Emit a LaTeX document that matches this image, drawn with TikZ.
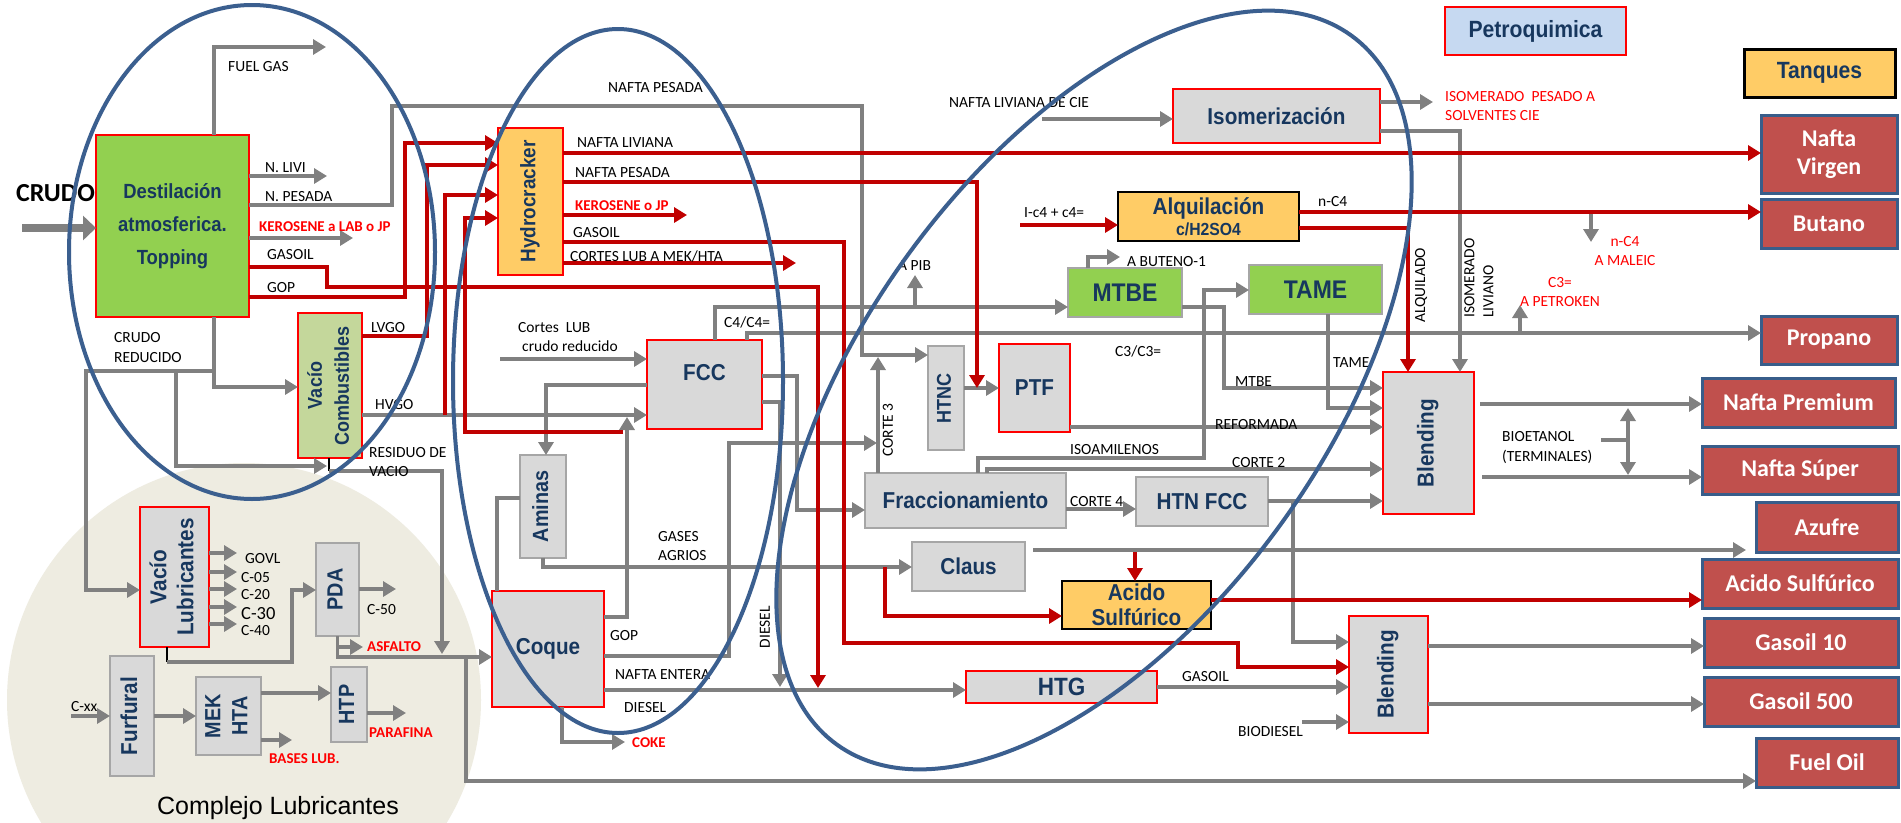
\documentclass[tikz,border=0pt]{standalone}
\usepackage{fontspec}
\usepackage{graphicx}
\usetikzlibrary{arrows.meta}
\setmainfont{Carlito}
\newfontfamily\boxfnt{Liberation Sans}[FakeStretch=0.9]
\newfontfamily\labfnt{Carlito}
\newfontfamily\arifnt{Liberation Sans}
\newcommand\setfs[2]{\fontsize{#1}{#2}\selectfont}
\newcommand\vtext[1]{\rotatebox{90}{\begin{tabular}{@{}c@{}}#1\end{tabular}}}
\definecolor{navy}{RGB}{23,55,94}
\definecolor{bred}{RGB}{255,0,0}
\definecolor{bgrey}{RGB}{166,166,166}
\definecolor{fgrey}{RGB}{217,217,217}
\definecolor{fgreen}{RGB}{146,208,80}
\definecolor{flgreen}{RGB}{196,215,155}
\definecolor{forange}{RGB}{255,204,102}
\definecolor{fblue}{RGB}{198,217,241}
\definecolor{tred}{RGB}{192,80,77}
\definecolor{tblue}{RGB}{56,93,138}
\definecolor{gline}{RGB}{128,128,128}
\definecolor{rline}{RGB}{192,0,0}
\definecolor{ellc}{RGB}{59,95,143}
\definecolor{beige}{RGB}{238,236,225}
\definecolor{lred}{RGB}{255,0,0}
\tikzset{
  bx/.style={line width=2.5pt, inner sep=0pt, outer sep=0pt, text=navy, align=center,
    font=\boxfnt\bfseries\setfs{23}{26}},
  rb/.style={bx, draw=bred},
  gb/.style={bx, draw=bgrey},
  kb/.style={bx, draw=black},
  wh/.style 2 args={minimum width=#1pt, minimum height=#2pt},
  tank/.style={draw=tblue, line width=3pt, fill=tred, inner sep=0pt, outer sep=0pt,
    text=white, align=center, font=\labfnt\bfseries\setfs{24}{28}},
  gl/.style={draw=gline, line width=3.5pt},
  ga/.style={gl, -{Triangle[length=13pt,width=15pt]}},
  rl/.style={draw=rline, line width=3.5pt},
  ra/.style={rl, -{Triangle[length=13pt,width=15pt]}},
  lb/.style={inner sep=0pt, anchor=west, align=left, font=\labfnt\setfs{15.5}{19}},
  lbr/.style={lb, text=lred},
  lbrb/.style={lb, text=lred, font=\labfnt\bfseries\setfs{15}{19}},
  ell/.style={draw=ellc, line width=4pt},
}
\begin{document}
\begin{tikzpicture}[x=1pt,y=-1pt]
\useasboundingbox (0,0) rectangle (1901,822);
\fill[white] (0,0) rectangle (1901,822);
% lubricants complex backdrop
\begin{scope}
  \clip (0,0) rectangle (1901,822);
  \fill[beige] (244,700) circle [radius=237pt];
\end{scope}

% ---------- process units ----------
\node[rb, fill=fgreen, wh={153}{182}, font=\boxfnt\bfseries\setfs{20.5}{33}] (dest) at (172.5,226) {Destilación\\atmosferica.\\Topping};
\node[rb, fill=forange, wh={65}{147}, font=\boxfnt\bfseries\setfs{21}{24}] (hc) at (530.5,201.5) {\vtext{Hydrocracker}};
\node[rb, fill=flgreen, wh={64}{145}, font=\boxfnt\bfseries\setfs{20}{27}] (vcomb) at (330,385.5) {\vtext{Vacío\\Combustibles}};
\node[rb, fill=fgrey, wh={115}{89}] (fcc) at (704.5,384.5) {};
\node[bx] (fcct) at (704.5,373) {FCC};
\node[gb, fill=fgrey, wh={46}{103}, font=\boxfnt\bfseries\setfs{22}{26}] (amin) at (543,506.5) {\vtext{Aminas}};
\node[rb, fill=fgrey, wh={112}{116}] (coque) at (548,649) {Coque};
\node[rb, fill=fgrey, wh={207}{54}] (iso) at (1276.5,116) {Isomerización};
\node[kb, fill=forange, wh={181}{49}] (alq) at (1208.5,216.5) {Alquilación\\[-5pt]{\setfs{17.5}{20}c/H2SO4}};
\node[gb, fill=fgreen, wh={114}{49}, font=\boxfnt\bfseries\setfs{25.5}{28}] (mtbe) at (1125,292.5) {MTBE};
\node[gb, fill=fgreen, wh={133}{49}, font=\boxfnt\bfseries\setfs{25.5}{28}] (tame) at (1315.5,289.5) {TAME};
\node[gb, fill=fgrey, wh={36}{104}, font=\boxfnt\bfseries\setfs{20}{24}] (htnc) at (946,398) {\vtext{HTNC}};
\node[rb, fill=fgrey, wh={71}{88}] (ptf) at (1034.5,388) {PTF};
\node[gb, fill=fgrey, wh={201}{55}] (frac) at (965.5,500.5) {Fraccionamiento};
\node[gb, fill=fgrey, wh={132}{49}] (htnfcc) at (1202,501.5) {HTN FCC};
\node[gb, fill=fgrey, wh={113}{49}] (claus) at (968.5,566.5) {Claus};
\node[kb, fill=forange, wh={149}{48}, font=\boxfnt\bfseries\setfs{23}{25.5}] (acid) at (1136.5,605) {Acido\\Sulfúrico};
\node[rb, fill=fgrey, wh={191}{32}, font=\boxfnt\bfseries\setfs{25}{26}] (htg) at (1061.5,687) {HTG};
\node[rb, fill=fgrey, wh={91}{142}] (bl1) at (1428.5,443) {\vtext{Blending}};
\node[rb, fill=fgrey, wh={79}{117}] (bl2) at (1388.5,674.5) {\vtext{Blending}};
\node[rb, fill=fblue, wh={181}{48}, font=\boxfnt\bfseries\setfs{23.5}{26}] (petro) at (1535.5,31) {Petroquimica};
\node[kb, fill=forange, wh={151}{48}, line width=3pt, font=\boxfnt\bfseries\setfs{23.5}{26}] (tanq) at (1819.5,73) {Tanques};

% lubricants complex
\node[rb, fill=fgrey, wh={69}{140}, font=\boxfnt\bfseries\setfs{23}{27}] (vlub) at (174.5,577) {\vtext{Vacío\\Lubricantes}};
\node[gb, fill=fgrey, wh={43}{93}, font=\boxfnt\bfseries\setfs{22}{26}] (pda) at (337.5,589.5) {\vtext{PDA}};
\node[gb, fill=fgrey, wh={44}{120}] (furf) at (132,716) {\vtext{Furfural}};
\node[gb, fill=fgrey, wh={65}{78}, font=\boxfnt\bfseries\setfs{22}{27}] (mek) at (228.5,716) {\vtext{MEK\\HTA}};
\node[gb, fill=fgrey, wh={36}{75}, font=\boxfnt\bfseries\setfs{22}{26}] (htp) at (349,704.5) {\vtext{HTP}};

% ---------- tanks ----------
\node[tank, wh={136}{78}] (tnv) at (1829,154) {Nafta\\Virgen};
\node[tank, wh={136}{49}] (tbut) at (1829,223.5) {Butano};
\node[tank, wh={136}{48}] (tprop) at (1829,340) {Propano};
\node[tank, wh={193}{49}] (tnprem) at (1798.5,402.5) {Nafta Premium};
\node[tank, wh={196}{48}] (tnsup) at (1800,470) {Nafta Súper};
\node[tank, wh={142}{50}] (tazu) at (1827,527) {Azufre};
\node[tank, wh={196}{49}] (tacid) at (1800,583.5) {Acido Sulfúrico};
\node[tank, wh={194}{49}] (tg10) at (1801,642.5) {Gasoil 10};
\node[tank, wh={194}{49}] (tg500) at (1801,701.5) {Gasoil 500};
\node[tank, wh={142}{49}] (tfo) at (1827,762.5) {Fuel Oil};

% ---------- free ends ----------
\coordinate (crudein) at (22,228);
\coordinate (fgend) at (326,47);
\coordinate (nliviend) at (327,176);
\coordinate (kerend) at (353,238);
\coordinate (apib) at (915,275);
\coordinate (petrok) at (1520,305);
\coordinate (maleic) at (1591,242);
\coordinate (buteno) at (1120,257);
\coordinate (isopes) at (1433,102);
\coordinate (ciein) at (1042,119);
\coordinate (ic4in) at (1020,225);
\coordinate (kerjp) at (687,215);
\coordinate (cortlub) at (796,263);
\coordinate (lubin) at (500,359);
\coordinate (cokeend) at (625,742);
\coordinate (bioin) at (1302,722);
\coordinate (cxxin) at (71,716);

% ---------- grey streams ----------
\draw[gl, line width=8pt, -{Triangle[length=13pt,width=24pt]}] (crudein) -- (crudein -| dest.west);
\draw[ga] (dest.north -| 214,0) |- (fgend);
\draw[ga] (nliviend -| dest.east) -- (nliviend);
\draw[ga] (dest.east |- 0,205) -- (392,205) -- (392,106) -- (862,106) -- (862,355) -- (htnc.west |- 0,355);
\draw[ga] (kerend -| dest.east) -- (kerend);
\draw[ga] (dest.south -| 214,0) |- (vcomb.west |- 0,387);
\draw[ga] (214,371) -| (86,590) -- (vlub.west |- 0,590);
\draw[ga] (176,371) |- (327,466);
\draw[draw=black, line width=2pt] (vcomb.south -| 329,0) -- (329,471);
\draw[ga] (329,471) -| (442,654);
\draw[ga] (pda.south) |- (coque.west |- 0,657);
\draw[ga] (466,657) |- (tfo.west |- 0,781);
\draw[ga] (vcomb.east |- 0,415) -- (fcc.west |- 0,415);
\foreach \yy in {553,572,589,607,624}{
  \draw[ga] (vlub.east |- 0,\yy) -- (237,\yy);
}
\draw[draw=black, line width=2pt] (vlub.south -| 167,0) -- (167,662);
\draw[ga] (167,662) -| (292,590) -- (pda.west |- 0,590);
\draw[ga] (pda.east |- 0,589) -- (396,589);
\draw[ga] (338,647) -- (363,647);
\draw[ga] (cxxin) -- (furf.west |- cxxin);
\draw[ga] (furf.east |- 0,716) -- (mek.west |- 0,716);
\draw[ga] (mek.east |- 0,693) -- (htp.west |- 0,693);
\draw[ga] (mek.east |- 0,740) -- (292,740);
\draw[ga] (htp.east |- 0,713) -- (406,713);
\draw[ga] (lubin) -- (fcc.west |- lubin);
\draw[ga] (fcc.west |- 0,385) -| (546,455);
\draw[gl] (amin.west |- 0,498) -| (coque.north -| 497,0);
\draw[ga] (amin.south) |- (claus.west |- 0,567);
\draw[ga] (coque.east |- 0,617) -| (627,417);
\draw[ga] (coque.east |- 0,656) -| (729,443) -- (877,443);
\draw[ga] (coque.east |- 0,690) -- (htg.west |- 0,690);
\draw[ga] (coque.south -| 562,0) |- (cokeend);
\draw[ga] (fcc.north -| 715,0) |- (mtbe.west |- 0,307);
\draw[ga] (apib |- 0,307) -- (apib);
\draw[ga] (fcc.north -| 747,0) |- (tprop.west |- 0,333);
\draw[ga] (petrok |- 0,333) -- (petrok);
\draw[ga] (fcc.east |- 0,376) -| (797,510) -- (frac.west |- 0,510);
\draw[ga] (fcc.east |- 0,402) -| (780,687);
\draw[ga] (frac.north -| 878,0) -- (878,357);
\draw[ga] (htnc.east |- 0,388) -- (ptf.west |- 0,388);
\draw[ga] (mtbe.north -| 1088,0) |- (buteno);
\draw[ga] (mtbe.east |- 0,307) -| (1224,388) -- (bl1.west |- 0,388);
\draw[ga] (frac.north -| 978,0) |- (1204,458) |- (tame.west |- 0,290);
\draw[ga] (tame.south -| 1328,0) |- (bl1.west |- 0,408);
\draw[ga] (ptf.east |- 0,427) -- (bl1.west |- 0,427);
\draw[ga] (frac.north -| 987,0) |- (bl1.west |- 0,469);
\draw[ga] (frac.east |- 0,509) -- (htnfcc.west |- 0,509);
\draw[ga] (htnfcc.east |- 0,501) -- (bl1.west |- 0,501);
\draw[ga] (1293,501) |- (bl2.west |- 0,642);
\draw[ga] ([xshift=8pt]claus.east |- 0,550) -- ([xshift=-10pt]tazu.west |- 0,550);
\draw[ga] (ciein) -- (iso.west |- ciein);
\draw[ga] (iso.east |- isopes) -- (isopes);
\draw[ga] (iso.east |- 0,131) -| (bl1.north -| 1460,0);
\draw[ga] (maleic |- 0,212) -- (maleic);
\draw[ga] (htg.east |- 0,687) -- (bl2.west |- 0,687);
\draw[ga] (bioin) -- (bl2.west |- bioin);
\draw[ga] (bl2.east |- 0,646) -- (tg10.west |- 0,646);
\draw[ga] (bl2.east |- 0,704) -- (tg500.west |- 0,704);
\draw[ga] ([xshift=6pt]bl1.east |- 0,404) -- (tnprem.west |- 0,404);
\draw[ga] ([xshift=8pt]bl1.east |- 0,477) -- (tnsup.west |- 0,477);
\draw[gl] (1601,440) -- (1628,440);
\draw[gl, {Triangle[length=13pt,width=15pt]}-{Triangle[length=13pt,width=15pt]}] (1628,408) -- (1628,475);

% ---------- red streams ----------
\draw[ra] (dest.east |- 0,267) -- (327,267) -- (327,287) -- (818,287) -- (818,688);
\draw[ra] (dest.east |- 0,297) -| (405,143) -- (hc.west |- 0,143);
\draw[ra] (vcomb.east |- 0,336) -| (427,165) -- (hc.west |- 0,165);
\draw[ra] (445,415) |- (hc.west |- 0,195);
\draw[ra] (623,432) -| (465,218) -- (hc.west |- 0,218);
\draw[ra] (hc.east |- 0,153) -- (tnv.west |- 0,153);
\draw[ra] (hc.east |- 0,182) -| (977,388);
\draw[ra] (hc.east |- kerjp) -- (kerjp);
\draw[ra] (hc.east |- 0,242) -| (844,643) -| (1238,667) -- (bl2.west |- 0,667);
\draw[ra] (hc.east |- cortlub) -- (cortlub);
\draw[ra] (ic4in) -- (alq.west |- ic4in);
\draw[ra] (alq.east |- 0,212) -- (tbut.west |- 0,212);
\draw[ra] (alq.east |- 0,228) -| (bl1.north -| 1408,0);
\draw[ra] (885,567) |- (acid.west |- 0,616);
\draw[ra] (1135,552) -- (acid.north -| 1135,0);
\draw[ra] (acid.east |- 0,600) -- (tacid.west |- 0,600);

% ---------- stream labels ----------
\node[lb, font=\labfnt\bfseries\setfs{26}{30}] (lcrudo) at (16,193) {CRUDO};
\node[lb] (lfg) at (228,67) {FUEL GAS};
\node[lb] (lnl) at (265,168) {N. LIVI};
\node[lb] (lnp) at (265,197) {N. PESADA};
\node[lbrb] (lker) at (259,227) {KEROSENE a LAB o JP};
\node[lb] (lgo) at (267,255) {GASOIL};
\node[lb] (lgop) at (267,288) {GOP};
\node[lb, font=\labfnt\setfs{15.5}{20}] (lcr) at (114,348) {CRUDO\\REDUCIDO};
\node[lb] (llvgo) at (371,328) {LVGO};
\node[lb] (lhvgo) at (375,405) {HVGO};
\node[lb] (lres) at (369,462) {RESIDUO DE\\VACIO};
\node[lb] (lnpes) at (608,88) {NAFTA PESADA};
\node[lb] (lhnl) at (577,143) {NAFTA LIVIANA};
\node[lb] (lhnp) at (575,173) {NAFTA PESADA};
\node[lbrb] (lhker) at (575,206) {KEROSENE o JP};
\node[lb] (lhgo) at (573,233) {GASOIL};
\node[lb] (lhcl) at (570,256) {CORTES LUB A MEK/HTA};
\node[lb] (lclub) at (518,337.5) {Cortes~~LUB\\\hspace*{4pt}crudo reducido};
\node[lb] (lc4) at (724,322) {C4/C4=};
\node[lb] (lc3) at (1115,351) {C3/C3=};
\node[lb] (lpib) at (898,266) {A PIB};
\node[lb, rotate=90, anchor=center] (lc3v) at (888,430) {CORTE 3};
\node[lb] (lga) at (658,546.5) {GASES\\AGRIOS};
\node[lb] (lcgop) at (610,636) {GOP};
\node[lb] (lnent) at (615,675) {NAFTA ENTERA};
\node[lb] (ldies) at (624,708) {DIESEL};
\node[lbrb] (lcoke) at (632,743) {COKE};
\node[lb, rotate=90, anchor=center] (ldiesv) at (765,627) {DIESEL};
\node[lb] (lcie) at (949,103) {NAFTA LIVIANA DE CIE};
\node[lbr] (lisop) at (1445,106.5) {ISOMERADO~~PESADO A\\SOLVENTES CIE};
\node[lb] (lic4) at (1024,213) {I-c4 + c4=};
\node[lb] (lnc4) at (1318,202) {n-C4};
\node[lbr, anchor=center, align=center] (lmal) at (1625,251.5) {n-C4\\A MALEIC};
\node[lbr, anchor=center, align=center] (lpetk) at (1560,292.5) {C3=\\A PETROKEN};
\node[lb] (lbut) at (1127,262) {A BUTENO-1};
\node[lb] (lmtbe) at (1235,382) {MTBE};
\node[lb] (ltame) at (1333,363) {TAME};
\node[lb] (lref) at (1215,425) {REFORMADA};
\node[lb] (liso) at (1070,450) {ISOAMILENOS};
\node[lb] (lc2) at (1232,463) {CORTE 2};
\node[lb] (lc4b) at (1070,502) {CORTE 4};
\node[lb, rotate=90] (lalq) at (1421,323) {ALQUILADO};
\node[lb, rotate=90] (lisol) at (1479,318) {ISOMERADO\\LIVIANO};
\node[lb, font=\labfnt\setfs{15.5}{20}] (lbio) at (1502,448) {BIOETANOL\\(TERMINALES)};
\node[lb] (lhgo2) at (1182,677) {GASOIL};
\node[lb] (lbiod) at (1238,732) {BIODIESEL};
\node[lb] (lgovl) at (245,559) {GOVL};
\node[lb] (lc05) at (241,578) {C-05};
\node[lb] (lc20) at (241,595) {C-20};
\node[lb, font=\labfnt\setfs{18.5}{22}] (lc30) at (241,614) {C-30};
\node[lb] (lc40) at (241,631) {C-40};
\node[lb] (lc50) at (367,610) {C-50};
\node[lbrb] (lasf) at (367,647) {ASFALTO};
\node[lb] (lcxx) at (71,707) {C-xx};
\node[lbrb] (lbases) at (269,759) {BASES LUB.};
\node[lbrb] (lpar) at (369,733) {PARAFINA};
\node[inner sep=0pt, font=\arifnt\setfs{25}{30}] (lcomp) at (278,808) {Complejo Lubricantes};

% ---------- area outlines ----------
\draw[ell] (252,252) ellipse [x radius=183pt, y radius=247pt];
\draw[ell] (618,381) ellipse [x radius=165pt, y radius=352pt];
\draw[ell, rotate around={54:(1094,390)}] (1094,390) ellipse [x radius=438pt, y radius=230pt];
\end{tikzpicture}
\end{document}
